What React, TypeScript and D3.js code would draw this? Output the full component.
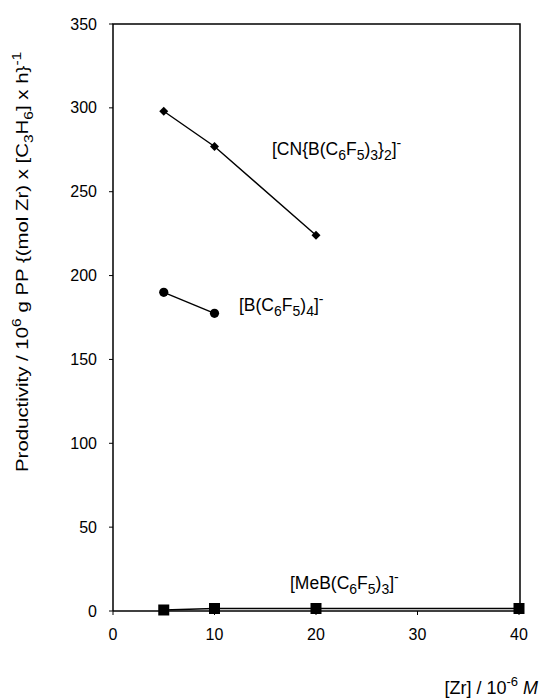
import React from "react";
import * as d3 from "d3";

const zrConc = [5, 10, 20, 40];
const cnValues = [298, 277, 224];
const bValues = [190, 177.5];
const meValues = [0.6, 1.5, 1.5, 1.5];
const xTicks = [0, 10, 20, 30, 40];
const yTicks = [0, 50, 100, 150, 200, 250, 300, 350];

const W = 543;
const H = 700;
const FONT = "'Liberation Sans', Arial, sans-serif";

function Formula({ parts, size, sub }: { parts: [string, string][]; size: number; sub: number }) {
  // parts: [kind, text] where kind = "n" normal, "b" subscript, "p" superscript
  let cur = 0;
  return (
    <>
      {parts.map(([k, t], i) => {
        const target = k === "b" ? size * 0.3 : k === "p" ? -size * 0.42 : 0;
        const dy = target - cur;
        cur = target;
        return (
          <tspan key={i} dy={dy} fontSize={k === "n" ? size : sub}>
            {t}
          </tspan>
        );
      })}
    </>
  );
}

export default function App() {
  const x = d3.scaleLinear().domain([0, 40]).range([113, 519]);
  const y = d3.scaleLinear().domain([0, 350]).range([611, 24]);

  const cnPts = cnValues.map((v, i) => [zrConc[i], v] as [number, number]);
  const bPts = bValues.map((v, i) => [zrConc[i], v] as [number, number]);
  const mePts = meValues.map((v, i) => [zrConc[i], v] as [number, number]);

  const line = d3
    .line<[number, number]>()
    .x((d) => x(d[0]))
    .y((d) => y(d[1]));

  const diamond = d3.symbol().type(d3.symbolSquare).size(40)();
  const square = d3.symbol().type(d3.symbolSquare).size(121)();

  const cnLabel: [string, string][] = [
    ["n", "[CN{B(C"], ["b", "6"], ["n", "F"], ["b", "5"], ["n", ")"], ["b", "3"], ["n", "}"], ["b", "2"], ["n", "]"], ["p", "-"],
  ];
  const bLabel: [string, string][] = [
    ["n", "[B(C"], ["b", "6"], ["n", "F"], ["b", "5"], ["n", ")"], ["b", "4"], ["n", "]"], ["p", "-"],
  ];
  const meLabel: [string, string][] = [
    ["n", "[MeB(C"], ["b", "6"], ["n", "F"], ["b", "5"], ["n", ")"], ["b", "3"], ["n", "]"], ["p", "-"],
  ];
  const yLabel: [string, string][] = [
    ["n", "Productivity / 10"], ["p", "6"], ["n", " g PP {(mol Zr) x [C"], ["b", "3"], ["n", "H"], ["b", "6"], ["n", "] x h}"], ["p", "-1"],
  ];

  const LS = 17.5;
  const LSub = 14;

  return (
    <svg
      width={W}
      height={H}
      style={{ position: "absolute", left: 0, top: 0, background: "#fff" }}
      fontFamily={FONT}
    >
      <rect x={0} y={0} width={W} height={H} fill="#fff" />
      {/* frame */}
      <path
        d={`M${x(0)},${y(0)} V${y(350)} H${x(40) + 1} V${y(0)}`}
        fill="none"
        stroke="#000"
        strokeWidth={1.5}
      />
      <line x1={x(0)} x2={x(40) + 1} y1={y(0)} y2={y(0)} stroke="#000" strokeWidth={1.5} />
      {/* y ticks */}
      {yTicks.map((t) => (
        <g key={"y" + t}>
          <line x1={x(0) - 4} x2={x(0)} y1={y(t)} y2={y(t)} stroke="#000" strokeWidth={1} />
          <text x={97} y={y(t)} dy="0.35em" textAnchor="end" fontSize={16}>
            {t}
          </text>
        </g>
      ))}
      {/* x ticks */}
      {xTicks.map((t) => (
        <g key={"x" + t}>
          <line x1={x(t)} x2={x(t)} y1={y(0)} y2={y(0) + 4} stroke="#000" strokeWidth={1} />
          <text x={x(t)} y={640} textAnchor="middle" fontSize={16}>
            {t}
          </text>
        </g>
      ))}
      {/* y label */}
      <text transform={`translate(28,472) rotate(-90) scale(1.2,1)`} fontSize={17} textAnchor="start">
        <Formula parts={yLabel} size={17} sub={13} />
      </text>
      {/* x label */}
      <text x={538} y={694} textAnchor="end" fontSize={18}>
        [Zr] / 10
        <tspan dy={-8} fontSize={13}>-6</tspan>
        <tspan dy={8}> </tspan>
        <tspan fontStyle="italic">M</tspan>
      </text>

      {/* series lines */}
      <path d={line(cnPts) || ""} fill="none" stroke="#000" strokeWidth={1.4} />
      <path d={line(bPts) || ""} fill="none" stroke="#000" strokeWidth={1.4} />
      <path d={line(mePts) || ""} fill="none" stroke="#000" strokeWidth={1.4} />

      {cnPts.map((d, i) => (
        <path
          key={"cn" + i}
          d={diamond || ""}
          transform={`translate(${x(d[0])},${y(d[1])}) rotate(45)`}
          fill="#000"
        />
      ))}
      {bPts.map((d, i) => (
        <circle key={"b" + i} cx={x(d[0])} cy={y(d[1])} r={4.6} fill="#000" />
      ))}
      {mePts.map((d, i) => (
        <path key={"me" + i} d={square || ""} transform={`translate(${x(d[0])},${y(d[1])})`} fill="#000" />
      ))}

      {/* series labels */}
      <text x={272} y={155} fontSize={LS}>
        <Formula parts={cnLabel} size={LS} sub={LSub} />
      </text>
      <text x={239} y={311} fontSize={LS}>
        <Formula parts={bLabel} size={LS} sub={LSub} />
      </text>
      <text x={290} y={589} fontSize={LS}>
        <Formula parts={meLabel} size={LS} sub={LSub} />
      </text>
    </svg>
  );
}
